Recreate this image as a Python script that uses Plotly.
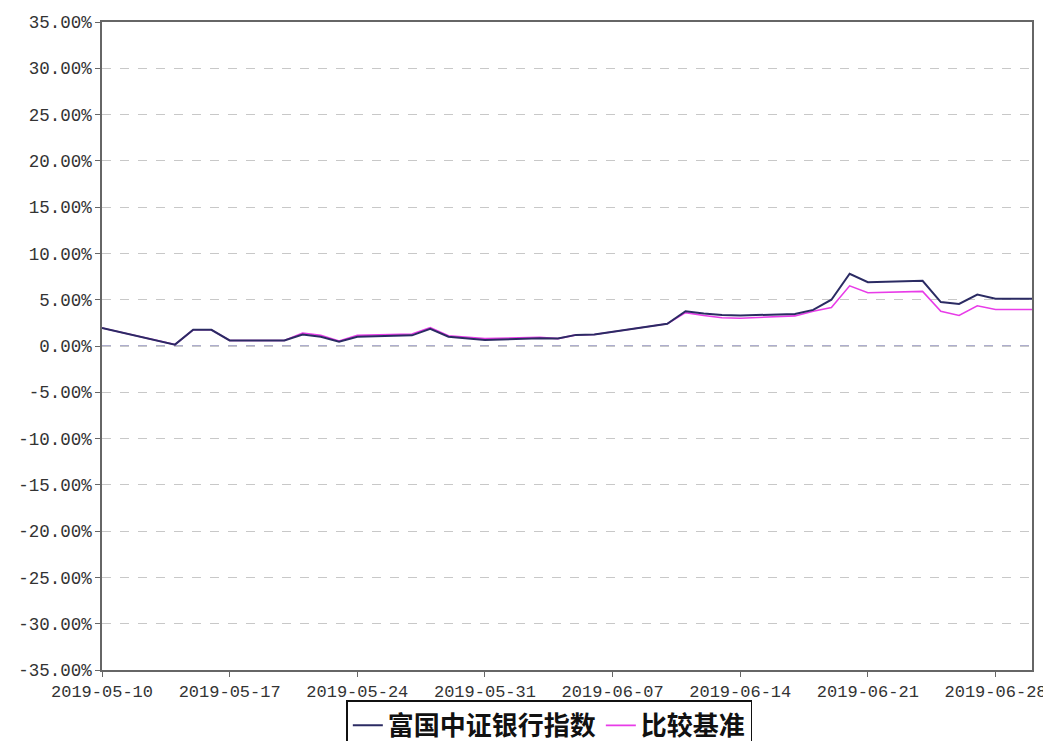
import plotly.graph_objects as go

dates = ["2019-05-10", "2019-05-13", "2019-05-14", "2019-05-15", "2019-05-16", "2019-05-17",
         "2019-05-20", "2019-05-21", "2019-05-22", "2019-05-23", "2019-05-24",
         "2019-05-27", "2019-05-28", "2019-05-29", "2019-05-30", "2019-05-31",
         "2019-06-03", "2019-06-04", "2019-06-05", "2019-06-06",
         "2019-06-10", "2019-06-11", "2019-06-12", "2019-06-13", "2019-06-14",
         "2019-06-17", "2019-06-18", "2019-06-19", "2019-06-20", "2019-06-21",
         "2019-06-24", "2019-06-25", "2019-06-26", "2019-06-27", "2019-06-28", "2019-06-30"]

fund_name = "富国中证银行指数"
bench_name = "比较基准"

fund_values = [1.95, 0.6, 0.15, 1.75, 1.75, 0.6, 0.6, 1.25, 1.0, 0.45, 1.0,
               1.15, 1.85, 1.0, 0.8, 0.65, 0.85, 0.8, 1.2, 1.25,
               2.4, 3.75, 3.5, 3.35, 3.3, 3.45, 3.9, 5.0, 7.8, 6.9,
               7.05, 4.75, 4.55, 5.55, 5.1, 5.1]

bench_values = [1.95, 0.6, 0.15, 1.75, 1.75, 0.6, 0.6, 1.4, 1.15, 0.55, 1.15,
                1.3, 2.0, 1.1, 0.95, 0.8, 0.95, 0.8, 1.2, 1.25,
                2.4, 3.6, 3.3, 3.05, 3.0, 3.25, 3.75, 4.15, 6.5, 5.75,
                5.9, 3.75, 3.3, 4.35, 3.95, 3.95]

y_ticks = [-35, -30, -25, -20, -15, -10, -5, 0, 5, 10, 15, 20, 25, 30, 35]
y_tick_labels = ["-35.00%", "-30.00%", "-25.00%", "-20.00%", "-15.00%", "-10.00%", "-5.00%",
                 "0.00%", "5.00%", "10.00%", "15.00%", "20.00%", "25.00%", "30.00%", "35.00%"]

x_ticks = ["2019-05-10", "2019-05-17", "2019-05-24", "2019-05-31",
           "2019-06-07", "2019-06-14", "2019-06-21", "2019-06-28"]

y_font = dict(family="Liberation Mono, DejaVu Sans Mono, monospace", size=17.5, color="#333333")
x_font = dict(family="Liberation Mono, DejaVu Sans Mono, monospace", size=17, color="#333333")

fig = go.Figure()
fig.add_trace(go.Scatter(x=dates, y=bench_values, mode="lines", name=bench_name,
                         line=dict(color="#E83CE8", width=1.6), legendrank=2))
fig.add_trace(go.Scatter(x=dates, y=fund_values, mode="lines", name=fund_name,
                         line=dict(color="#2B2B63", width=2), legendrank=1))

fig.add_shape(type="line", xref="paper", x0=0, x1=1, yref="y", y0=0, y1=0,
              line=dict(color="#5a5a9a", width=1, dash="dash"), layer="below")

# page body has an 8px margin, so the figure is offset by 8px
fig.update_layout(
    width=1043, height=733,
    margin=dict(l=94, r=19, t=14, b=71, autoexpand=False),
    paper_bgcolor="white", plot_bgcolor="white",
    showlegend=True,
    legend=dict(orientation="h", x=0.481, xanchor="center", y=-0.047, yanchor="top",
                bordercolor="#111111", borderwidth=1.5, bgcolor="white",
                font=dict(family="Noto Sans CJK SC", size=26, color="#111111", weight="bold"),
                itemwidth=30, tracegroupgap=0),
    xaxis=dict(type="date", range=["2019-05-10", "2019-06-30"],
               tickvals=x_ticks, ticktext=x_ticks, automargin=False,
               showgrid=False, zeroline=False,
               showline=True, linecolor="#666666", linewidth=1.5, mirror=True,
               ticks="outside", ticklen=5, tickcolor="#666666",
               tickfont=x_font),
    yaxis=dict(range=[-35, 35], tickvals=y_ticks, ticktext=y_tick_labels, automargin=False,
               showgrid=True, gridcolor="#c8c8c8", griddash="dash", gridwidth=1,
               zeroline=False,
               showline=True, linecolor="#666666", linewidth=1.5, mirror=True,
               ticks="outside", ticklen=5, tickcolor="#666666",
               tickfont=y_font),
)

fig.write_html("out.html")
